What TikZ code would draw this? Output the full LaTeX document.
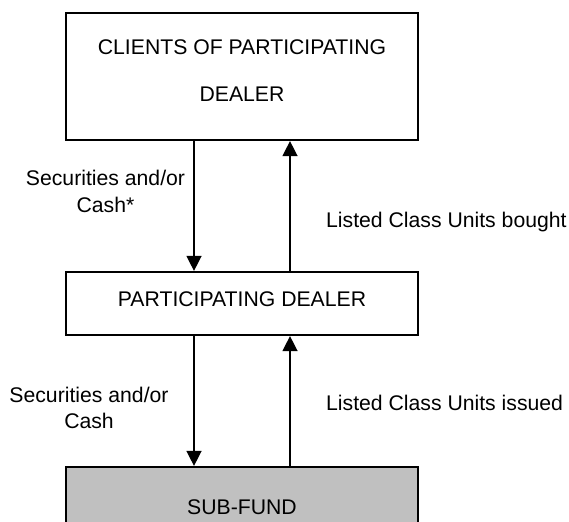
\documentclass[tikz,border=0pt]{standalone}
\usepackage{fontspec}
\setmainfont{Liberation Sans}
\usetikzlibrary{arrows.meta}
\definecolor{fundgray}{RGB}{192,192,192}
\begin{document}
\begin{tikzpicture}[x=1pt,y=-1pt,
  box/.style={draw=black,line width=2.2pt,minimum width=352pt,inner sep=0pt},
  txt/.style={font=\fontsize{21.2}{26.5}\selectfont,inner sep=0pt,anchor=base},
  arr/.style={-{Triangle[length=15pt,width=15pt]},line width=1.4pt}]
\useasboundingbox (0,0) rectangle (569,521);
% boxes
\node[box,minimum height=127pt] (clients) at (242,76.5) {};
\node[box,minimum height=63pt] (dealer) at (242,303.5) {};
\node[box,fill=fundgray,minimum height=80pt] (fund) at (242,507) {};
% box texts
\node[txt] (c1) at (242,55) {CLIENTS OF PARTICIPATING};
\node[txt] (c2) at (242,102) {DEALER};
\node[txt] (d1) at (242,306) {PARTICIPATING DEALER};
\node[txt] (f1) at (242,514) {SUB-FUND};
% arrows
\draw[arr] ([xshift=-48pt]clients.south) -- ([xshift=-48pt]dealer.north);
\draw[arr] ([xshift=48pt]dealer.north) -- ([xshift=48pt]clients.south);
\draw[arr] ([xshift=-48pt]dealer.south) -- ([xshift=-48pt]fund.north);
\draw[arr] ([xshift=48pt]fund.north) -- ([xshift=48pt]dealer.south);
% arrow labels
\node[txt] (l1) at (105.5,185.5) {Securities and/or};
\node[txt] (l2) at (105.5,212) {Cash*};
\node[txt,anchor=base west] (r1) at (326,227) {Listed Class Units bought};
\node[txt] (l3) at (89,402.7) {Securities and/or};
\node[txt] (l4) at (89,428.8) {Cash};
\node[txt,anchor=base west] (r2) at (326,410.7) {Listed Class Units issued};
\end{tikzpicture}
\end{document}
